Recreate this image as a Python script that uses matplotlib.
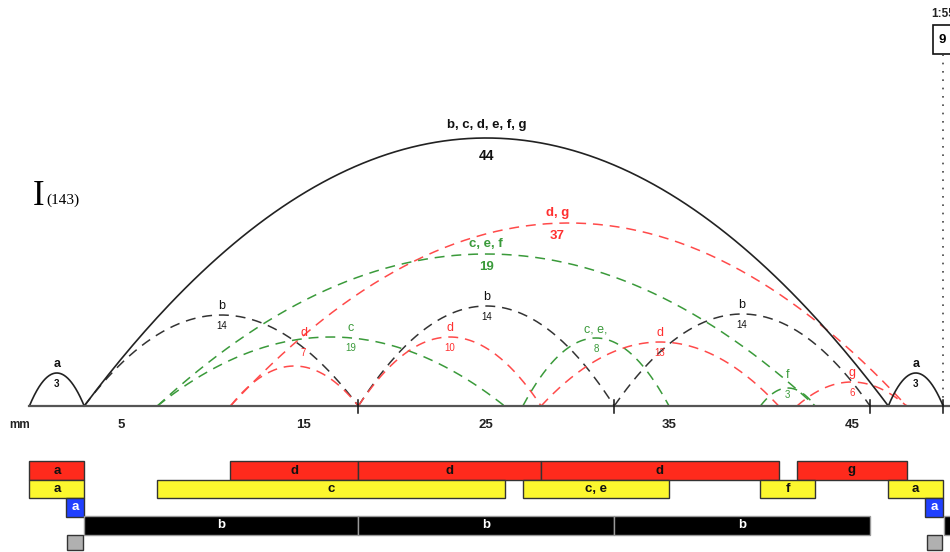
import numpy as np
import matplotlib.pyplot as plt
from matplotlib.patches import Rectangle

plt.rcParams['font.family'] = ['Liberation Sans', 'DejaVu Sans']

# ----- arcs : start, end, height, label, value -----
arc_start = [0, 3, 47, 3, 18, 32, 11, 7, 7, 27, 40, 11, 18, 28, 42]
arc_end = [3, 47, 50, 18, 32, 46, 48, 43, 26, 35, 43, 18, 28, 41, 48]
arc_height = [33, 268, 33, 91, 100, 92, 183, 152, 69, 68, 18, 40, 69, 64, 24]
arc_label = ['a', 'b, c, d, e, f, g', 'a', 'b', 'b', 'b', 'd, g', 'c, e, f',
             'c', 'c, e,', 'f', 'd', 'd', 'd', 'g']
arc_value = ['3', '44', '3', '14', '14', '14', '37', '19', '19', '8', '3', '7', '10', '13', '6']
arc_kind = ['solid', 'solid', 'solid', 'b', 'b', 'b', 'r', 'g', 'g', 'g', 'g', 'r', 'r', 'r', 'r']
arc_big = [False, True, False, False, False, False, True, True,
           False, False, False, False, False, False, False]
# where the label sits when it is not on the top of its arc
label_dx = [0, 0, 0, 0, 0, 0, -0.6, 0, 1.1, 0, 0, 0.5, 0, 0, 0]
label_h = [33, 268, 33, 91, 100, 92, 183, 152, 69, 68, 22, 64, 69, 64, 24]

# ----- bars -----
red_bars = [(0, 3, 'a'), (11, 18, 'd'), (18, 28, 'd'), (28, 41, 'd'), (42, 48, 'g')]
yellow_bars = [(0, 3, 'a'), (7, 26, 'c'), (27, 35, 'c, e'), (40, 43, 'f'), (47, 50, 'a')]
blue_bars = [(2, 3, 'a'), (49, 50, 'a')]
black_bars = [(3, 18, 'b'), (18, 32, 'b'), (32, 46, 'b'), (50.05, 53, '')]
grey_bars = [(2.05, 2.95), (49.1, 49.95)]

axis_ticks = [18, 32, 46, 50]
tick_labels = [5, 15, 25, 35, 45]

line_col = {'solid': '#222222', 'b': '#333333', 'r': '#ff4a4a', 'g': '#3a9a3a'}
text_col = {'solid': '#111111', 'b': '#111111', 'r': '#ff3030', 'g': '#3a9a3a'}

fig = plt.figure(figsize=(9.5, 5.52), dpi=100)
ax = fig.add_axes([0, 0, 1, 1])
ax.set_xlim(-29.4 / 18.275, (950 - 29.4) / 18.275)
ax.set_ylim(-146, 406)
ax.axis('off')

t = np.linspace(0, 1, 200)
for i in range(len(arc_start)):
    s, e, h = arc_start[i], arc_end[i], arc_height[i]
    x = s + (e - s) * t
    y = 4 * h * t * (1 - t)
    k = arc_kind[i]
    if k == 'solid':
        ax.plot(x, y, color=line_col[k], lw=1.2, zorder=3)
    else:
        ax.plot(x, y, color=line_col[k], lw=1.1, dashes=(6.5, 4.5), zorder=2)

    xm = (s + e) / 2 + label_dx[i]
    hl = label_h[i]
    c = text_col[arc_kind[i]]
    if i == 1:
        ax.text(xm, hl + 10, arc_label[i], ha='center', va='baseline', fontsize=9.5,
                fontweight='bold', color=c)
        ax.text(xm, hl - 22, arc_value[i], ha='center', va='baseline', fontsize=10,
                fontweight='bold', color=c)
    elif arc_big[i]:
        ax.text(xm, hl + 7, arc_label[i], ha='center', va='baseline', fontsize=9.5,
                fontweight='bold', color=c)
        ax.text(xm, hl - 16, arc_value[i], ha='center', va='baseline', fontsize=9.5,
                fontweight='bold', color=c)
    else:
        w = 'bold' if k == 'solid' else 'normal'
        ax.text(xm, hl + 6, arc_label[i], ha='center', va='baseline', fontsize=9,
                fontweight=w, color=c)
        ax.text(xm, hl - 14, arc_value[i], ha='center', va='baseline', fontsize=7,
                fontweight=w, color=c)

# axis line and ticks
ax.plot([0, 60], [0, 0], color='#555555', lw=1.6, zorder=4)
for tk in axis_ticks:
    ax.plot([tk, tk], [-7, 6], color='#111111', lw=1.1, zorder=5)
ax.text(-0.55, -19, 'mm', ha='center', va='center', fontsize=8.5, fontweight='bold', color='#222222')
for tl in tick_labels:
    ax.text(tl, -19, str(tl), ha='center', va='center', fontsize=9.5, fontweight='bold', color='#222222')

# dotted marker at the right
ax.plot([50, 50], [0, 351], color='#444444', lw=1.2, linestyle=(0, (1, 4)), zorder=1)
ax.add_patch(Rectangle((49.44, 352), 3, 29, facecolor='white', edgecolor='#111111', lw=1.2, zorder=6))
ax.text(49.95, 366, '9', ha='center', va='center', fontsize=9.5, fontweight='bold', zorder=7)
ax.text(49.35, 392, '1:55', ha='left', va='center', fontsize=8.5, fontweight='bold', color='#222222')

# title
ax.text(0.2, 201, 'I', family='Liberation Serif', fontsize=25, ha='left', va='baseline')
ax.text(0.95, 202, '(143)', family='Liberation Serif', fontsize=11, ha='left', va='baseline')


def draw_row(bars, y0, y1, fc, ec, tc):
    for b in bars:
        s, e = b[0], b[1]
        ax.add_patch(Rectangle((s, y0), e - s, y1 - y0, facecolor=fc, edgecolor=ec, lw=1.0, zorder=3))
        if len(b) > 2 and b[2]:
            ax.text((s + e) / 2, (y0 + y1) / 2, b[2], ha='center', va='center', fontsize=9.5,
                    fontweight='bold', color=tc, zorder=4)


draw_row(red_bars, -74, -55, '#ff2a1c', '#333333', '#111111')
draw_row(yellow_bars, -92, -74, '#fcf72e', '#333333', '#111111')
draw_row(blue_bars, -111, -92, '#2040ff', '#333333', 'white')
draw_row(black_bars, -129, -110, '#000000', '#999999', 'white')
draw_row([(g[0], g[1], '') for g in grey_bars], -144, -129, '#b0b0b0', '#333333', '#111111')

fig.savefig('out.png', dpi=100)
